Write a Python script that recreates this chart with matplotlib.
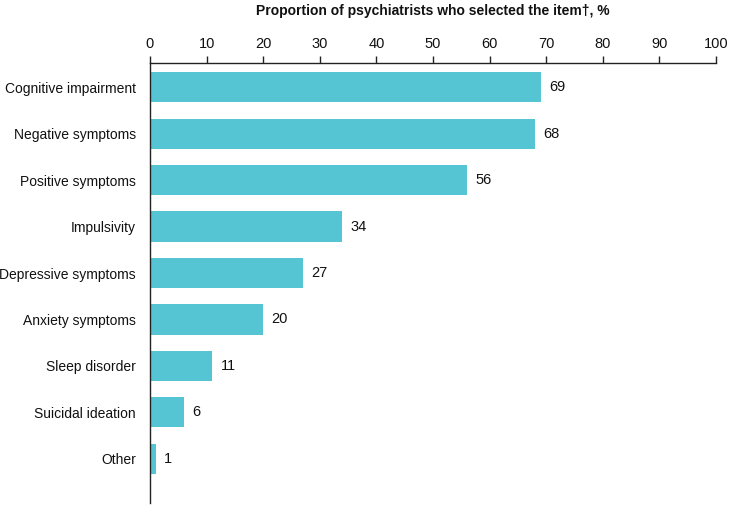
import matplotlib
matplotlib.use("Agg")
import matplotlib.pyplot as plt

plt.rcParams['font.family'] = ['Liberation Sans', 'DejaVu Sans']

categories = ["Cognitive impairment", "Negative symptoms", "Positive symptoms",
              "Impulsivity", "Depressive symptoms", "Anxiety symptoms",
              "Sleep disorder", "Suicidal ideation", "Other"]
values = [69, 68, 56, 34, 27, 20, 11, 6, 1]
xticks = [0, 10, 20, 30, 40, 50, 60, 70, 80, 90, 100]
title = "Proportion of psychiatrists who selected the item\u2020, %"

fig = plt.figure(figsize=(7.3, 5.05), dpi=100)
ax = fig.add_axes([150/730, 2/505, (716-150)/730, (505-63-2)/505])

ypos = list(range(len(categories)))
ax.barh(ypos, values, height=0.65, color="#55C5D3", zorder=2)
for y, v in zip(ypos, values):
    ax.text(v + 1.5, y, f"{v}", va="center", ha="left", fontsize=10.5, color="#111111")

ax.set_xlim(0, 100)
ax.set_ylim(8.95, -0.52)
ax.set_yticks(ypos)
ax.set_yticklabels(categories, fontsize=10, color="#111111")
ax.tick_params(axis='y', length=0, pad=10)

ax.xaxis.tick_top()
ax.set_xticks(xticks)
ax.set_xticklabels([str(t) for t in xticks], fontsize=10.5, color="#111111")
ax.tick_params(axis='x', direction='out', length=4.8, width=1, pad=4, color="#222222")

for s in ["right", "bottom"]:
    ax.spines[s].set_visible(False)
for s in ["left", "top"]:
    ax.spines[s].set_linewidth(1)
    ax.spines[s].set_color("#222222")

fig.text((150+716)/2/730, 1 - 11/505, title, ha="center", va="center",
         fontsize=10, fontweight="bold", color="#111111")

fig.savefig("out.png", dpi=100)
